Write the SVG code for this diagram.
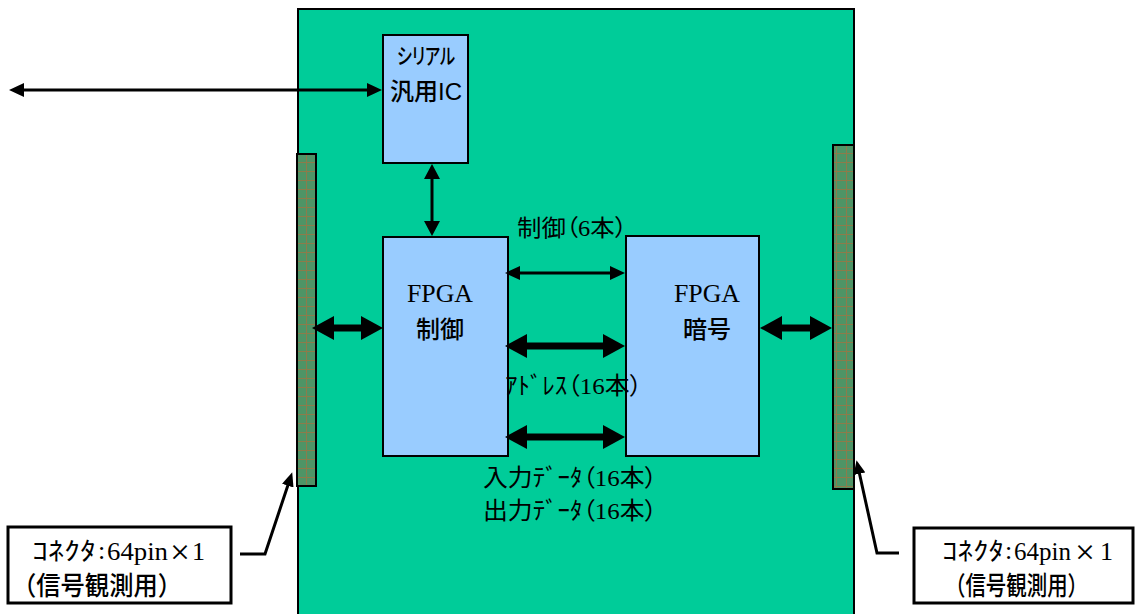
<svg xmlns="http://www.w3.org/2000/svg" width="1136" height="614" viewBox="0 0 1136 614">
<defs>
<style>
.board{fill:#00CC99;stroke:#000;stroke-width:2}
.chip{fill:#99CCFF;stroke:#000;stroke-width:2}
.conn{fill:url(#grid);stroke:#000;stroke-width:2}
.callout{fill:#fff;stroke:#000;stroke-width:3}
.t{font-family:"Liberation Serif","Noto Sans CJK JP",serif;fill:#000;font-feature-settings:"palt"}
.j{font-family:"Noto Sans CJK JP","Liberation Sans",sans-serif;fill:#000;font-weight:500;font-feature-settings:"palt"}
.jf{font-family:"Noto Sans CJK JP","Liberation Sans",sans-serif;fill:#000;font-weight:500}
.jn{font-family:"Noto Sans CJK JP","Liberation Sans",sans-serif;fill:#000;font-weight:400}
.thin{stroke:#000;stroke-width:3;fill:none}
.thick{stroke:#000;stroke-width:7;fill:none}
.lead{stroke:#000;stroke-width:3;fill:none}
</style>
<pattern id="grid" x="297" y="154" width="10" height="9" patternUnits="userSpaceOnUse">
<rect width="10" height="9" fill="#4E9466"/>
<path d="M0,8.5H10M9.5,0V9" stroke="#A8703E" stroke-width="1" opacity="0.7"/>
</pattern>
<marker id="aS" viewBox="0 0 15 14" refX="8" refY="7" markerWidth="15" markerHeight="14" markerUnits="userSpaceOnUse" orient="auto-start-reverse"><path d="M0,0L15,7L0,14z" fill="#000"/></marker>
<marker id="aT" viewBox="0 0 22 24" refX="12" refY="12" markerWidth="22" markerHeight="24" markerUnits="userSpaceOnUse" orient="auto-start-reverse"><path d="M0,0L22,12L0,24z" fill="#000"/></marker>
<marker id="aV" viewBox="0 0 15 16" refX="8" refY="8" markerWidth="15" markerHeight="16" markerUnits="userSpaceOnUse" orient="auto-start-reverse"><path d="M0,0L15,8L0,16z" fill="#000"/></marker>
<marker id="aL" viewBox="0 0 14 12" refX="7" refY="6" markerWidth="14" markerHeight="12" markerUnits="userSpaceOnUse" orient="auto"><path d="M0,0L14,6L0,12z" fill="#000"/></marker>
</defs>
<rect width="1136" height="614" fill="#fff"/>
<g id="board"><rect class="board" x="298" y="9" width="556" height="620"/></g>
<g id="conn-left"><rect class="conn" x="297" y="154" width="19" height="332"/></g>
<g id="conn-right"><rect class="conn" x="833" y="145" width="21" height="344"/></g>
<g id="serial-ic">
<rect class="chip" x="383" y="35" width="85" height="128"/>
<text class="j" x="397" y="64" font-size="22" textLength="58" lengthAdjust="spacingAndGlyphs">シリアル</text>
<text class="j" x="390" y="100" font-size="24" textLength="72" lengthAdjust="spacingAndGlyphs">汎用<tspan font-family="Liberation Sans">IC</tspan></text>
</g>
<g id="fpga-ctrl">
<rect class="chip" x="383" y="237" width="125" height="219"/>
<text class="t" x="407" y="302" font-size="26" textLength="66" lengthAdjust="spacingAndGlyphs">FPGA</text>
<text class="j" x="440" y="338" font-size="24" text-anchor="middle">制御</text>
</g>
<g id="fpga-crypto">
<rect class="chip" x="626" y="236" width="133" height="220"/>
<text class="t" x="674" y="302" font-size="26" textLength="66" lengthAdjust="spacingAndGlyphs">FPGA</text>
<text class="j" x="707" y="338" font-size="24" text-anchor="middle">暗号</text>
</g>
<g id="labels">
<text class="t" x="517" y="236" font-size="23" textLength="110" lengthAdjust="spacingAndGlyphs">制御（6本）</text>
<text class="t" x="505" y="394" font-size="24" textLength="137" lengthAdjust="spacingAndGlyphs">ｱﾄﾞﾚｽ（16本）</text>
<text class="t" x="483" y="486" font-size="24" textLength="174" lengthAdjust="spacingAndGlyphs">入力ﾃﾞｰﾀ（16本）</text>
<text class="t" x="483" y="519" font-size="24" textLength="174" lengthAdjust="spacingAndGlyphs">出力ﾃﾞｰﾀ（16本）</text>
</g>
<g id="callout-left">
<rect class="callout" x="8" y="527" width="223" height="76"/>
<text class="jn" x="32" y="560" font-size="25" textLength="64" lengthAdjust="spacingAndGlyphs">ｺﾈｸﾀ</text>
<text class="t" x="98" y="559" font-size="26">:</text>
<text class="t" x="107" y="560" font-size="26" textLength="61" lengthAdjust="spacingAndGlyphs">64pin</text>
<text class="jf" x="169" y="560" font-size="22">×</text>
<text class="t" x="192" y="560" font-size="26">1</text>
<text class="jf" x="12" y="595" font-size="26" textLength="170" lengthAdjust="spacingAndGlyphs">（信号観測用）</text>
</g>
<g id="callout-right">
<rect class="callout" x="914" y="528" width="219" height="75"/>
<text class="jn" x="942" y="560" font-size="25" textLength="62" lengthAdjust="spacingAndGlyphs">ｺﾈｸﾀ</text>
<text class="t" x="1005" y="559" font-size="26">:</text>
<text class="t" x="1014" y="560" font-size="26" textLength="57" lengthAdjust="spacingAndGlyphs">64pin</text>
<text class="jf" x="1074" y="560" font-size="22">×</text>
<text class="t" x="1100" y="560" font-size="26">1</text>
<text class="jf" x="945" y="595" font-size="26" textLength="143" lengthAdjust="spacingAndGlyphs">（信号観測用）</text>
</g>
<g id="connectors">
<line class="thin" x1="16" y1="90" x2="375" y2="90" marker-start="url(#aS)" marker-end="url(#aS)"/>
<line class="thin" x1="432" y1="171" x2="432" y2="229" marker-start="url(#aV)" marker-end="url(#aV)"/>
<line class="thin" x1="512" y1="273" x2="618" y2="273" marker-start="url(#aS)" marker-end="url(#aS)"/>
<line class="thick" x1="515" y1="346" x2="615" y2="346" marker-start="url(#aT)" marker-end="url(#aT)"/>
<line class="thick" x1="515" y1="437" x2="615" y2="437" marker-start="url(#aT)" marker-end="url(#aT)"/>
<line class="thick" x1="322" y1="328" x2="373" y2="328" marker-start="url(#aT)" marker-end="url(#aT)"/>
<line class="thick" x1="770" y1="328" x2="822" y2="328" marker-start="url(#aT)" marker-end="url(#aT)"/>
<polyline class="lead" points="240,554 265,554 290,479" marker-end="url(#aL)"/>
<polyline class="lead" points="899,553 877,553 858,467" marker-end="url(#aL)"/>
</g>
</svg>
